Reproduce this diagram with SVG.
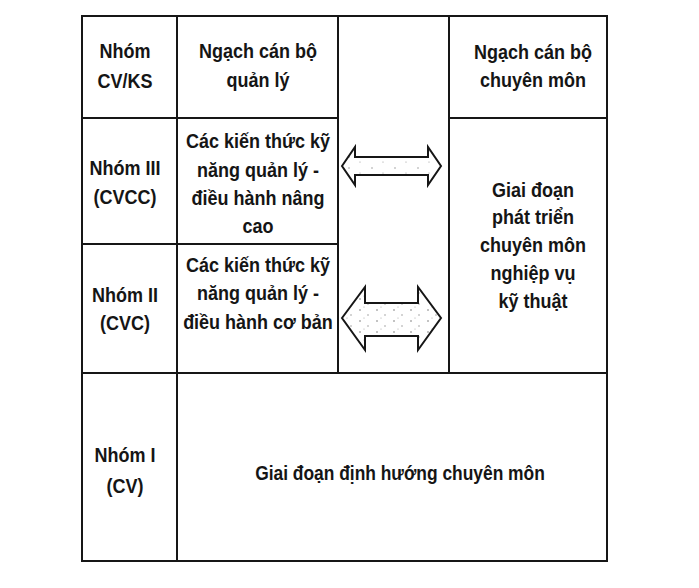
<svg xmlns="http://www.w3.org/2000/svg" width="699" height="588" viewBox="0 0 699 588">
<style>
.ln{stroke:#161616;stroke-width:2;fill:none;stroke-linecap:square}
.t{font-family:"Liberation Sans",Arial,Helvetica,sans-serif;font-weight:bold;font-size:20px;fill:#151515;text-anchor:middle}
.arw{stroke:#161616;stroke-width:2;stroke-linejoin:miter}
</style>
<defs>
<pattern id="spk1" width="23" height="11" patternUnits="userSpaceOnUse">
<rect width="23" height="11" fill="#fff"/>
<circle cx="4" cy="3" r="0.7" fill="#888"/>
<circle cx="15" cy="8" r="0.6" fill="#999"/>
</pattern>
<pattern id="spk2" width="17" height="11" patternUnits="userSpaceOnUse">
<rect width="17" height="11" fill="#fff"/>
<circle cx="3" cy="2" r="0.8" fill="#777"/>
<circle cx="11" cy="7" r="0.7" fill="#888"/>
<circle cx="7" cy="10" r="0.5" fill="#999"/>
</pattern>
</defs>
<rect width="699" height="588" fill="#fff"/>

<g id="grid">
<rect class="ln" x="82" y="16" width="525" height="545"/>
<line class="ln" x1="177" y1="16" x2="177" y2="561"/>
<line class="ln" x1="338" y1="16" x2="338" y2="373"/>
<line class="ln" x1="449" y1="16" x2="449" y2="373"/>
<line class="ln" x1="82" y1="118" x2="338" y2="118"/>
<line class="ln" x1="449" y1="118" x2="607" y2="118"/>
<line class="ln" x1="82" y1="244" x2="338" y2="244"/>
<line class="ln" x1="82" y1="373" x2="607" y2="373"/>
</g>

<g id="hdr-nhom" transform="matrix(0.9,0,0,1,12.5,0)">
<text class="t" x="125" y="58">Nhóm</text>
<text class="t" x="125" y="88">CV/KS</text>
</g>
<g id="hdr-quanly" transform="matrix(0.9,0,0,1,25.8,0)">
<text class="t" x="258" y="58">Ngạch cán bộ</text>
<text class="t" x="258" y="87">quản lý</text>
</g>
<g id="hdr-chuyenmon" transform="matrix(0.9,0,0,1,53.3,0)">
<text class="t" x="533" y="59">Ngạch cán bộ</text>
<text class="t" x="533" y="87">chuyên môn</text>
</g>

<g id="nhom3" transform="matrix(0.9,0,0,1,12.5,0)">
<text class="t" x="125" y="175">Nhóm III</text>
<text class="t" x="125" y="204">(CVCC)</text>
</g>
<g id="ql-nangcao" transform="matrix(0.9,0,0,1,25.8,0)">
<text class="t" x="258" y="148">Các kiến thức kỹ</text>
<text class="t" x="258" y="177">năng quản lý -</text>
<text class="t" x="258" y="205">điều hành nâng</text>
<text class="t" x="258" y="233">cao</text>
</g>

<g id="nhom2" transform="matrix(0.9,0,0,1,12.5,0)">
<text class="t" x="125" y="302">Nhóm II</text>
<text class="t" x="125" y="330">(CVC)</text>
</g>
<g id="ql-coban" transform="matrix(0.9,0,0,1,25.8,0)">
<text class="t" x="258" y="272">Các kiến thức kỹ</text>
<text class="t" x="258" y="300">năng quản lý -</text>
<text class="t" x="258" y="329">điều hành cơ bản</text>
</g>

<g id="gd-phattrien" transform="matrix(0.9,0,0,1,53.3,0)">
<text class="t" x="533" y="197">Giai đoạn</text>
<text class="t" x="533" y="224">phát triển</text>
<text class="t" x="533" y="252">chuyên môn</text>
<text class="t" x="533" y="280">nghiệp vụ</text>
<text class="t" x="533" y="308">kỹ thuật</text>
</g>

<g id="nhom1" transform="matrix(0.9,0,0,1,12.5,0)">
<text class="t" x="125" y="462">Nhóm I</text>
<text class="t" x="125" y="493">(CV)</text>
</g>
<g id="gd-dinhhuong" transform="matrix(0.87,0,0,1,52,0)">
<text class="t" x="400" y="480">Giai đoạn định hướng chuyên môn</text>
</g>

<g id="connectors">
<polygon class="arw" fill="url(#spk1)" points="342,166 355,147 355,157 428,157 428,147 441,166 428,185 428,175 355,175 355,185"/>
<polygon class="arw" fill="url(#spk2)" points="342,318 365,287 365,303 418,303 418,287 441,318 418,350 418,336 365,336 365,350"/>
</g>
</svg>
